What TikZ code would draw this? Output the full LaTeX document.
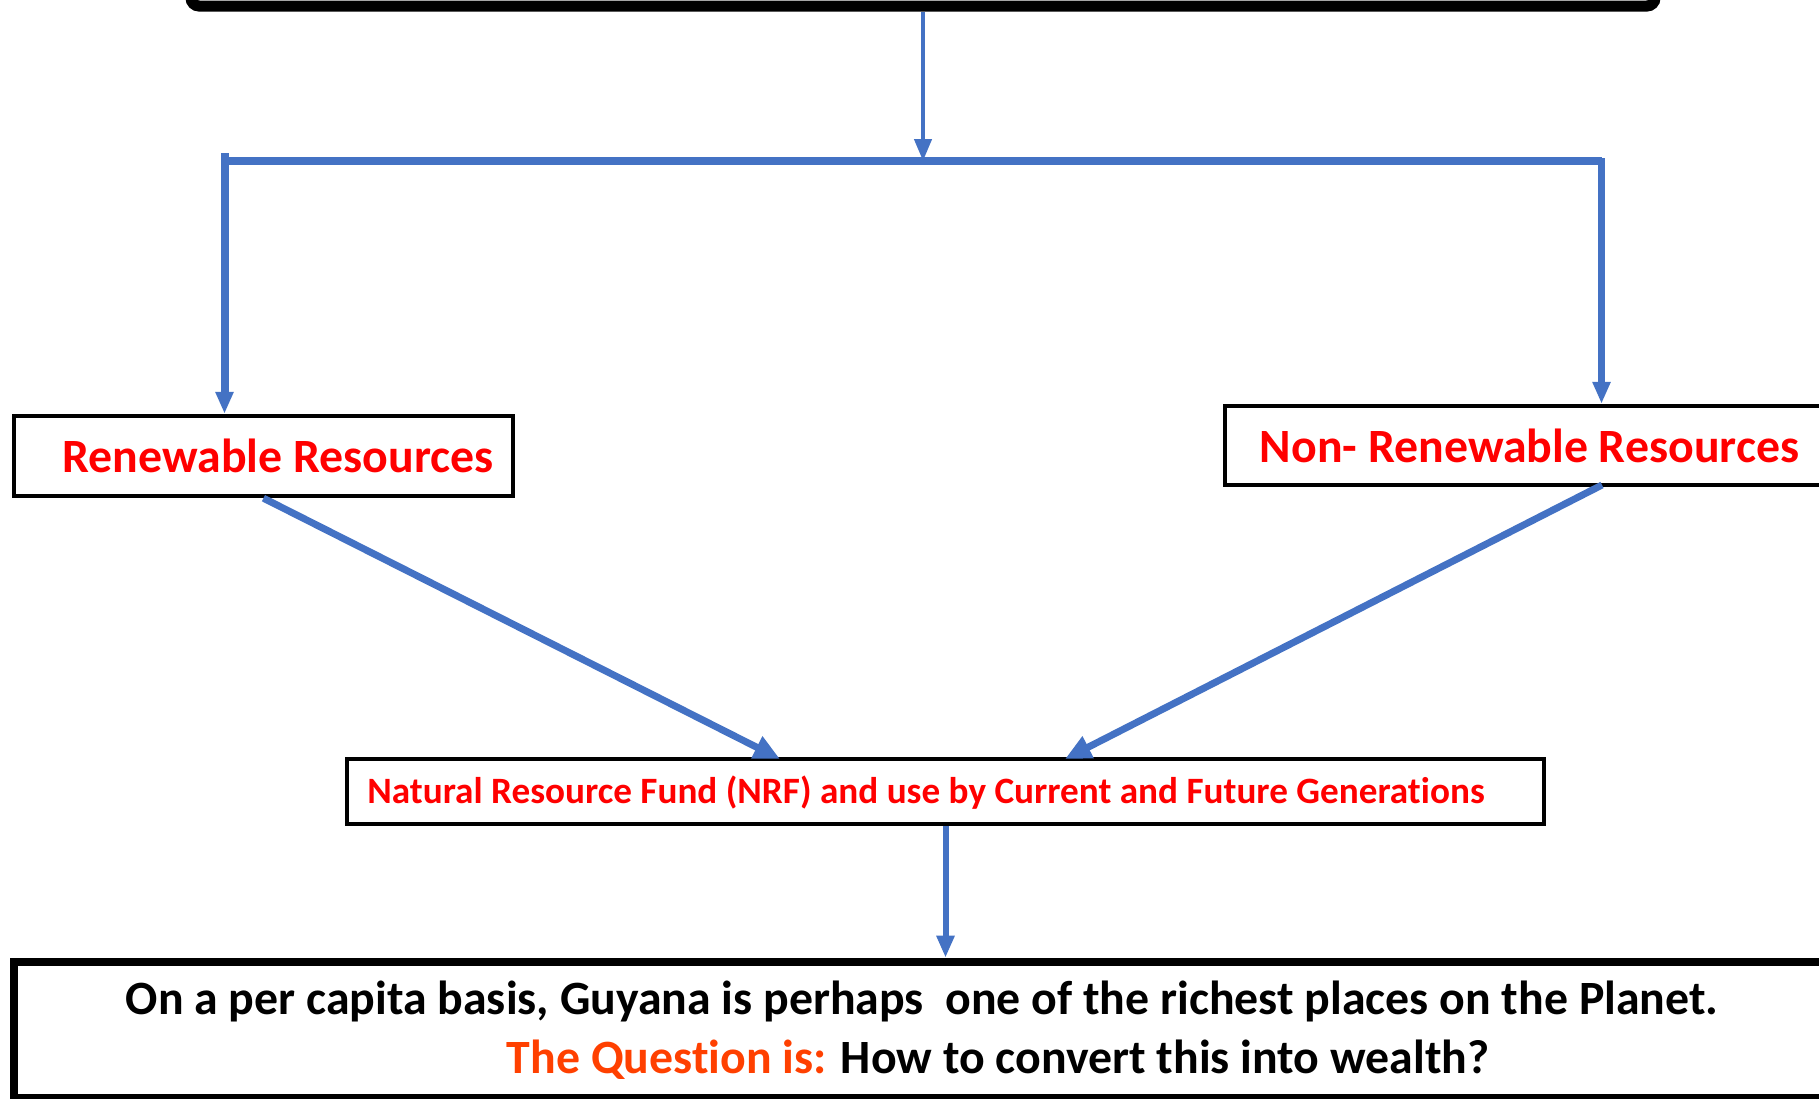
\documentclass[tikz,border=0pt]{standalone}
\usepackage{fontspec}
\setmainfont{Carlito}[Ligatures=NoCommon]
\usetikzlibrary{arrows.meta}
\definecolor{officeblue}{RGB}{68,114,196}
\definecolor{qorange}{RGB}{255,64,0}
\begin{document}
\begin{tikzpicture}[x=0.5pt,y=-0.5pt,
  box/.style={draw=black, rectangle, inner sep=0pt, fill=white},
  conn/.style={draw=officeblue, -{Triangle[length=11pt,width=8.5pt]}},
  diag/.style={draw=officeblue, line width=3.5pt, -{Triangle[length=13pt,width=11.5pt]}},
  bigtxt/.style={font=\bfseries\fontsize{23.9pt}{28pt}\selectfont, anchor=base},
  redtxt/.style={text=red}]
\clip (0,0) rectangle (1819,1098);
\fill[white] (0,0) rectangle (1819,1098);
% top box (mostly cut off)
\node[box, line width=5.5pt, rounded corners=4pt, minimum width=732pt, minimum height=34pt] (top) at (923,-28) {};
% resource boxes
\node[box, line width=2.2pt, minimum width=249.5pt, minimum height=40pt] (ren) at (263.5,456) {};
\node[bigtxt, redtxt] (rentxt) at (278,472) {Renewable Resources};
\node[box, line width=2.2pt, minimum width=304.5pt, minimum height=39.5pt] (nonren) at (1529.5,445.5) {};
\node[bigtxt, redtxt] (nonrentxt) at (1529.5,462) {Non- Renewable Resources};
% NRF box
\node[box, line width=2.2pt, minimum width=598.5pt, minimum height=32.5pt] (nrf) at (945.5,791.5) {};
\node[redtxt, font=\bfseries\fontsize{18.6pt}{22pt}\selectfont, anchor=base] (nrftxt) at (926,803) {Natural Resource Fund (NRF) and use by Current and Future Generations};
% bottom box
\node[box, line width=4.3pt, minimum width=913pt, minimum height=68pt] (bottom) at (927,1030) {};
\node[bigtxt] (l1) at (922,1014) {On a per capita basis, Guyana is perhaps\ \ one of the richest places on the Planet.};
\node[bigtxt] (l2) at (998,1073) {\textcolor{qorange}{The Question is:} How to convert this into wealth?};
% coordinates
\coordinate (split) at (923,161);
\coordinate (L) at (224.5,161);
\coordinate (Ltop) at (224.5,153);
\coordinate (R) at (1601.5,161);
\coordinate (nrS) at (1602,485);
\coordinate (nrfL) at (780,759);
\coordinate (nrfR) at (1065,759);
% connectors
\draw[conn, line width=2.2pt] (top.south) -- (split);
\draw[draw=officeblue, line width=4pt] (L) -- (R);
\draw[conn, line width=4pt] (Ltop) -- (Ltop |- ren.north);
\draw[conn, line width=3.5pt, line join=miter] (split) -- (R) -- (R |- nonren.north);
\draw[diag] (ren.south) -- (nrfL);
\draw[diag] (nrS) -- (nrfR);
\draw[conn, line width=3pt] (nrf.south) -- (nrf.south |- bottom.north);
\end{tikzpicture}
\end{document}
